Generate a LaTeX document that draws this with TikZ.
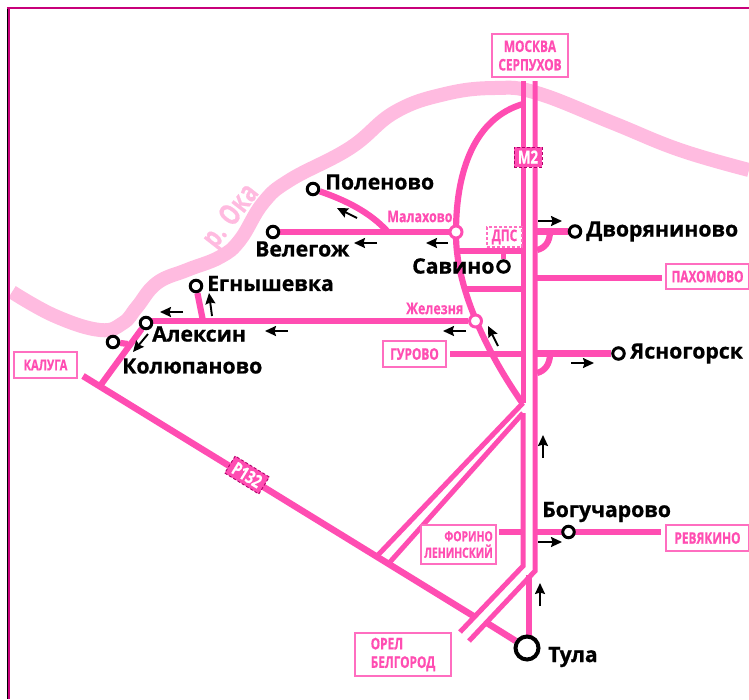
\documentclass[tikz,border=0pt]{standalone}
\usepackage{fontspec}
\setmainfont{Open Sans}[BoldFeatures={FakeBold=0.8}]
\newfontfamily\condfont[FakeStretch=0.74,BoldFeatures={FakeBold=0.6}]{Open Sans}
\newfontfamily\smallfont[FakeStretch=0.78,BoldFeatures={FakeBold=0.4}]{Open Sans}
\usetikzlibrary{arrows.meta,backgrounds}
\definecolor{road}{HTML}{FF4DB2}
\definecolor{river}{HTML}{FFBBE0}
\definecolor{framec}{HTML}{C8007A}
\definecolor{boxline}{HTML}{FF6EC0}
\definecolor{badge}{HTML}{B0006A}
\tikzset{
  x=1pt,y=-1pt,
  rd/.style={draw=road,line width=6.2pt},
  rdthin/.style={draw=road,line width=5pt},
  town/.style={circle,draw=black,line width=3pt,fill=white,inner sep=0pt,minimum size=11.5pt},
  pass/.style={circle,draw=road,line width=3pt,fill=white,inner sep=0pt,minimum size=12pt},
  lbl/.style={font=\bfseries\fontsize{21.2}{24}\selectfont,text=black,inner sep=0pt,anchor=west},
  small/.style={font=\smallfont\bfseries\fontsize{16}{18}\selectfont,text=road,inner sep=0pt,anchor=west},
  boxl/.style={draw=boxline,line width=1.2pt,fill=white,inner sep=0pt,text=road,align=center,
     font=\condfont\bfseries\fontsize{16}{18.5}\selectfont},
  go/.style={-{Stealth[length=11pt,width=10pt,inset=1.5pt]},draw=black,line width=1.9pt},
  tag/.style={fill=road,draw=badge,densely dashed,line width=0.9pt,text=white,inner sep=0pt,
     font=\condfont\bfseries\fontsize{18}{19}\selectfont}
}
\begin{document}
\begin{tikzpicture}
\useasboundingbox (0,0) rectangle (749,699);
% towns and passes
\node[town] (polenovo) at (313,189) {};
\node[town] (velegozh) at (273,232) {};
\node[town] (egn) at (196,286) {};
\node[town] (aleksin) at (146,323) {};
\node[town] (kolyu) at (113,342) {};
\node[town] (dvor) at (575,231.5) {};
\node[town] (savino) at (503.5,266.5) {};
\node[town] (yasno) at (618.5,353.5) {};
\node[town] (bogu) at (568.5,532) {};
\node[town,minimum size=23pt,line width=4pt] (tula) at (527,648) {};
\node[pass] (malakh) at (456,232) {};
\node[pass] (zhel) at (475.5,321) {};
% junction points
\coordinate (ltop) at (523,81);
\coordinate (rtop) at (535,81);
\coordinate (lbreak) at (523,403);
\coordinate (lres) at (523,413);
\coordinate (lbot) at (523,566);
\coordinate (rbot) at (535,571);
\coordinate (lend) at (460,632);
\coordinate (rend) at (469,641);
\coordinate (kal) at (83,376);
\coordinate (kalj) at (100,386);
\coordinate (dl1) at (378,555);
\coordinate (dl2) at (390,562);
\coordinate (pend) at (475,617);
\coordinate (tj) at (487,623);
\coordinate (tv) at (529,575);
\coordinate (tvb) at (529,640);
\coordinate (arcTop) at (523,104);
\coordinate (arcEnd) at (523,404);
\coordinate (polj) at (388,232);
\coordinate (egnj) at (203,321);
\coordinate (alej) at (146,321);
% river
\begin{scope}[on background layer]
\draw[river,line width=14pt,line join=round] plot[smooth,tension=0.7] coordinates
 {(12,292) (55,316) (100,330) (123,323) (137,307) (157,283) (187,270) (220,257) (240,240) (263,203) (290,180) (350,148) (395,112) (445,94) (495,88) (537,93) (613,123) (680,150) (749,170)};
% main road
\draw[rdthin] (ltop) -- (lbreak);
\draw[rdthin,line join=miter] (rtop) -- (rbot) -- (rend);
\draw[rdthin,line join=miter] (lres) -- (lbot) -- (lend);
\draw[rdthin] (lbreak) -- (dl1);
\draw[rdthin] (lres) -- (dl2);
\draw[rd,line width=6.5pt] (kal) -- (pend);
\draw[rd,line width=6.5pt] (tj) -- (tula);
\draw[rd] (tv) -- (tvb);
% arc and branches
\draw[rd] (arcTop) .. controls (475,118) and (456,170) .. (malakh.center)
   .. controls (455,285) and (485,350) .. (arcEnd);
\draw[rd] (velegozh) -- (malakh);
\draw[rd] (polenovo) .. controls (345,200) and (370,212) .. (polj);
\draw[rd] (alej) -- (zhel);
\draw[rd] (egn) -- (egnj);
\draw[rd] (kalj) -- (aleksin);
\draw[rd] (kolyu) -- (128,344);
\draw[rd,line width=5.5pt] (458,251) -- (523,251);
\draw[rd,line width=5.5pt] (savino) -- (503.5,251);
\draw[rd,line width=5.5pt] (465,289) -- (523,289);
\draw[rd] (535,231.5) -- (dvor);
\draw[rd] (537,250) .. controls (545,248) and (550,242) .. (550,231);
\draw[rd] (535,278) -- (662,278);
\draw[rd] (450,354) -- (523,354);
\draw[rd] (535,353.5) -- (yasno);
\draw[rd] (537,373) .. controls (545,371) and (550,364) .. (550,354);
\draw[rd] (535,532) -- (661,532);
\draw[rd] (499,532) -- (523,532);
\end{scope}
% frame
\draw[black,line width=1pt] (7.5,8) -- (7.5,699);
\draw[framec,line width=1.6pt] (8.8,8) -- (8.8,699);
\draw[framec,line width=2pt] (7,8) -- (749,8);
% boxes
\node[boxl,minimum width=76pt,minimum height=43pt] (moskva) at (530,55.5) {МОСКВА\\СЕРПУХОВ};
\node[boxl,minimum width=83pt,minimum height=25pt] (pakh) at (707.5,276.5) {ПАХОМОВО};
\node[boxl,minimum width=63pt,minimum height=26pt] (gurovo) at (414.5,354) {ГУРОВО};
\node[boxl,minimum width=83pt,minimum height=26pt] (revya) at (707.5,538) {РЕВЯКИНО};
\node[boxl,minimum width=75pt,minimum height=39pt,align=right,font=\condfont\bfseries\fontsize{14}{16.5}\selectfont] (forino) at (458.5,544.5) {ФОРИНО\\ЛЕНИНСКИЙ};
\node[boxl,minimum width=96pt,minimum height=43pt,align=left] (orel) at (403,654.5) {ОРЕЛ\\БЕЛГОРОД};
\node[boxl,minimum width=63pt,minimum height=26pt,font=\condfont\bfseries\fontsize{15}{16}\selectfont] (kaluga) at (45.5,365) {КАЛУГА};
\node[boxl,densely dashed,minimum width=35pt,minimum height=20pt] (dps) at (504.5,237) {ДПС};
\node[tag,minimum width=28pt,minimum height=20pt] (m2) at (528,157) {М2};
\node[tag,minimum width=40pt,minimum height=20pt,rotate=-31.6] (p132) at (247,475) {Р132};
% labels
\node[lbl] (lpol) at (325,182) {Поленово};
\node[lbl] (lvel) at (255,249) {Велегож};
\node[lbl] (legn) at (207,283.5) {Егнышевка};
\node[lbl] (lale) at (152,334) {Алексин};
\node[lbl] (lkol) at (122,366) {Колюпаново};
\node[lbl] (lsav) at (412,266) {Савино};
\node[lbl] (ldvo) at (586,231.5) {Дворяниново};
\node[lbl] (lyas) at (630,353.5) {Ясногорск};
\node[lbl] (lbog) at (542,512) {Богучарово};
\node[lbl] (ltul) at (548,657) {Тула};
\node[small] (lmal) at (387,216.5) {Малахово};
\node[small] (lzhe) at (406,308.5) {Железня};
\node[font=\condfont\bfseries\fontsize{29.5}{31}\selectfont,text=river,rotate=52,inner sep=0pt] (oka) at (232,217) {р. Ока};
% direction arrows
\draw[go] (357,218) -- (337,208);
\draw[go] (377,243) -- (354,243);
\draw[go] (448,243) -- (426,243);
\draw[go] (538,221) -- (562,221);
\draw[go] (183,312) -- (160,312);
\draw[go] (288,331) -- (265,331);
\draw[go] (212,316) -- (209,293);
\draw[go] (148,334) -- (133,352);
\draw[go] (466,331) -- (443,331);
\draw[go] (498,346) -- (488,326);
\draw[go] (571,363) -- (594,363);
\draw[go] (543,458) -- (543,435);
\draw[go] (540,606) -- (540,583);
\draw[go] (538,542) -- (562,542);
\end{tikzpicture}
\end{document}
